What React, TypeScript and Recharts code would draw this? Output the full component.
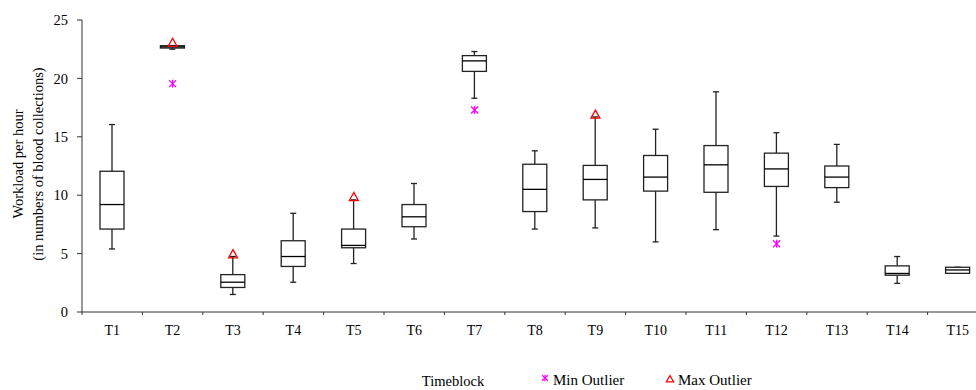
import { ComposedChart, Bar, Scatter, XAxis, YAxis, Legend } from "recharts";

const categories = ["T1", "T2", "T3", "T4", "T5", "T6", "T7", "T8", "T9", "T10", "T11", "T12", "T13", "T14", "T15"];
const whiskerLow = [5.4, 22.5, 1.5, 2.55, 4.15, 6.25, 18.3, 7.1, 7.2, 6.0, 7.05, 6.5, 9.4, 2.45, 3.31];
const q1 = [7.1, 22.6, 2.1, 3.9, 5.5, 7.3, 20.6, 8.6, 9.6, 10.35, 10.25, 10.75, 10.65, 3.15, 3.31];
const median = [9.2, 22.7, 2.55, 4.75, 5.7, 8.15, 21.5, 10.5, 11.35, 11.55, 12.6, 12.25, 11.55, 3.3, 3.6];
const q3 = [12.05, 22.8, 3.2, 6.1, 7.1, 9.2, 21.95, 12.65, 12.55, 13.4, 14.25, 13.6, 12.5, 3.95, 3.83];
const whiskerHigh = [16.05, 22.8, 4.75, 8.45, 9.6, 11.0, 22.3, 13.8, 16.7, 15.65, 18.85, 15.35, 14.35, 4.75, 3.83];
const minOutlier = [null, 19.55, null, null, null, null, 17.3, null, null, null, null, 5.85, null, null, null];
const maxOutlier = [null, 23.05, 4.95, null, 9.85, null, null, null, 16.9, null, null, null, null, null, null];
const yTicks = [0, 5, 10, 15, 20, 25];

const data = categories.map((name, i) => ({
  name,
  low: whiskerLow[i],
  q1: q1[i],
  median: median[i],
  q3: q3[i],
  high: whiskerHigh[i],
  minOut: minOutlier[i],
  maxOut: maxOutlier[i],
}));

const FONT = "'Liberation Serif', 'Times New Roman', serif";
const AXIS = "#333";
const BAND = 906 / 15;

const BoxShape = (props: any) => {
  const { x, y, width, height, payload } = props;
  const top = Math.min(y, y + height);
  const h = Math.abs(height);
  const span = payload.high - payload.low;
  const py = (v: number) => top + (h * (payload.high - v)) / span;
  const cx = x + width / 2;
  const cap = 3;
  return (
    <g stroke="#222" strokeWidth={1.3} fill="none">
      <line x1={cx} x2={cx} y1={py(payload.high)} y2={py(payload.q3)} />
      <line x1={cx} x2={cx} y1={py(payload.q1)} y2={py(payload.low)} />
      <line x1={cx - cap} x2={cx + cap} y1={py(payload.high)} y2={py(payload.high)} />
      <line x1={cx - cap} x2={cx + cap} y1={py(payload.low)} y2={py(payload.low)} />
      <rect x={x} y={py(payload.q3)} width={width} height={Math.max(py(payload.q1) - py(payload.q3), 0.5)} fill="#fff" />
      <line x1={x} x2={x + width} y1={py(payload.median)} y2={py(payload.median)} stroke="#000" />
    </g>
  );
};

const Star = ({ cx, cy, r = 3.5 }: { cx: number; cy: number; r?: number }) => (
  <g stroke="#ff00ff" strokeWidth={1.3}>
    <line x1={cx - r} x2={cx + r} y1={cy - r} y2={cy + r} />
    <line x1={cx - r} x2={cx + r} y1={cy + r} y2={cy - r} />
    <line x1={cx} x2={cx} y1={cy - r - 0.5} y2={cy + r + 0.5} />
  </g>
);

const Tri = ({ cx, cy, r = 4.5 }: { cx: number; cy: number; r?: number }) => (
  <polygon
    points={`${cx},${cy - r} ${cx - r},${cy + r * 0.8} ${cx + r},${cy + r * 0.8}`}
    fill="none"
    stroke="#ff0000"
    strokeWidth={1.3}
  />
);

const MinShape = (props: any) => {
  if (props.payload?.minOut == null || !isFinite(props.cy)) return null;
  return <Star cx={props.cx} cy={props.cy} />;
};

const MaxShape = (props: any) => {
  if (props.payload?.maxOut == null || !isFinite(props.cy)) return null;
  return <Tri cx={props.cx} cy={props.cy} />;
};

const XTick = (props: any) => {
  const { x, y, payload } = props;
  return (
    <g>
      <line x1={x - BAND / 2} x2={x - BAND / 2} y1={y - 3} y2={y} stroke={AXIS} />
      <text x={x} y={y + 20} textAnchor="middle" fontFamily={FONT} fontSize={14} fill="#000">
        {payload.value}
      </text>
    </g>
  );
};

const YLabel = (props: any) => {
  const vb = props.viewBox || { y: 20, height: 292 };
  const cy = vb.y + vb.height / 2 - 2;
  return (
    <g fontFamily={FONT} fontSize={14.5} fill="#000">
      <text x={23} y={cy} textAnchor="middle" transform={`rotate(-90, 23, ${cy})`}>
        Workload per hour
      </text>
      <text x={43} y={cy} textAnchor="middle" transform={`rotate(-90, 43, ${cy})`}>
        (in numbers of blood collections)
      </text>
    </g>
  );
};

const XLabel = () => (
  <text x={453} y={386} textAnchor="middle" fontFamily={FONT} fontSize={14.5} fill="#000">
    Timeblock
  </text>
);

const LegendContent = () => (
  <div style={{ position: "relative", height: 16, fontFamily: FONT, fontSize: 15, color: "#000" }}>
    <svg width={12} height={16} style={{ position: "absolute", left: 539, top: -2 }}>
      <Star cx={6} cy={6} r={2.8} />
    </svg>
    <span style={{ position: "absolute", left: 553, top: -2, lineHeight: "16px", whiteSpace: "nowrap" }}>Min Outlier</span>
    <svg width={12} height={16} style={{ position: "absolute", left: 664, top: -2 }}>
      <Tri cx={6} cy={7} r={3.5} />
    </svg>
    <span style={{ position: "absolute", left: 678, top: -2, lineHeight: "16px", whiteSpace: "nowrap" }}>Max Outlier</span>
  </div>
);

export default function App() {
  return (
    <div style={{ position: "absolute", left: 0, top: 0, width: 976, height: 390, overflow: "hidden", background: "#fff" }}>
      <ComposedChart width={1000} height={390} data={data} margin={{ top: 20, right: 12, bottom: 0, left: 0 }}>
        <XAxis
          dataKey="name"
          type="category"
          height={62}
          stroke={AXIS}
          tickLine={false}
          tickSize={3}
          tickMargin={0}
          tick={<XTick />}
          interval={0}
          label={<XLabel />}
        />
        <YAxis
          type="number"
          domain={[0, 25]}
          ticks={yTicks}
          width={82}
          stroke={AXIS}
          tickSize={5}
          tickMargin={9}
          tick={{ fontFamily: FONT, fontSize: 14.5, fill: "#000" }}
          label={<YLabel />}
        />
        <Legend
          verticalAlign="bottom"
          wrapperStyle={{ left: 0, width: 1000, bottom: 0, height: 16 }}
          content={<LegendContent />}
        />
        <Bar dataKey={(d: any) => [d.low, d.high]} barSize={24} shape={<BoxShape />} isAnimationActive={false} />
        <Scatter dataKey="minOut" shape={<MinShape />} isAnimationActive={false} />
        <Scatter dataKey="maxOut" shape={<MaxShape />} isAnimationActive={false} />
      </ComposedChart>
    </div>
  );
}
